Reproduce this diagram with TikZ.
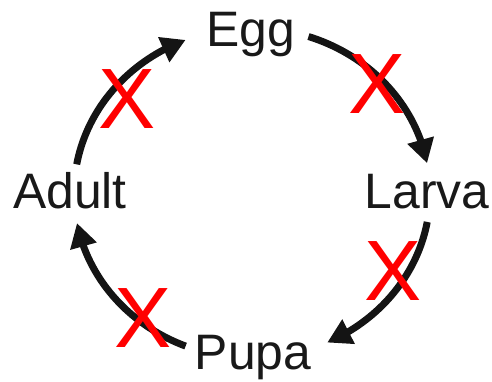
\documentclass[tikz,border=0pt]{standalone}
\usepackage{fontspec}
\setmainfont{Liberation Sans}
\usetikzlibrary{arrows.meta, bending}

\begin{document}
\begin{tikzpicture}[x=1bp, y=-1bp]

        \tikzstyle{stagelabel} = [inner sep=0, anchor=base, text=black!90, font=\fontsize{50}{54}\selectfont];
        \tikzstyle{crossmark} = [inner sep=0, anchor=base, text=red, font=\fontsize{86}{90}\selectfont];
        \tikzstyle{cyclearrow} = [line width=7bp, draw=black!92, -{Triangle[length=24bp, width=26bp, flex]}];

        \useasboundingbox (0,0) rectangle (492,381);

        \coordinate (C) at (252,193);

        \node[stagelabel] (Egg) at (251,46) {Egg};
        \node[stagelabel] (Larva) at (427,208) {Larva};
        \node[stagelabel] (Pupa) at (253,369) {Pupa};
        \node[stagelabel] (Adult) at (70,208) {Adult};

        \coordinate (EggOut) at ([shift={(-71.5:178 and 165)}]C);
        \coordinate (LarvaOut) at ([shift={(10.1:178 and 165)}]C);
        \coordinate (PupaOut) at ([shift={(111.9:178 and 165)}]C);
        \coordinate (AdultOut) at ([shift={(190:178 and 165)}]C);


        \draw[cyclearrow] (EggOut) arc[start angle=-71.5, end angle=-10.4, x radius=178, y radius=165];
        \draw[cyclearrow] (LarvaOut) arc[start angle=10.1, end angle=65, x radius=178, y radius=165];
        \draw[cyclearrow] (PupaOut) arc[start angle=111.9, end angle=169.5, x radius=178, y radius=165];
        \draw[cyclearrow] (AdultOut) arc[start angle=190, end angle=248.1, x radius=178, y radius=165];


        \node[crossmark] (X1) at (377,113) {X};
        \node[crossmark] (X2) at (393,300) {X};
        \node[crossmark] (X3) at (143,347) {X};
        \node[crossmark] (X4) at (127,128) {X};

\end{tikzpicture}
\end{document}
